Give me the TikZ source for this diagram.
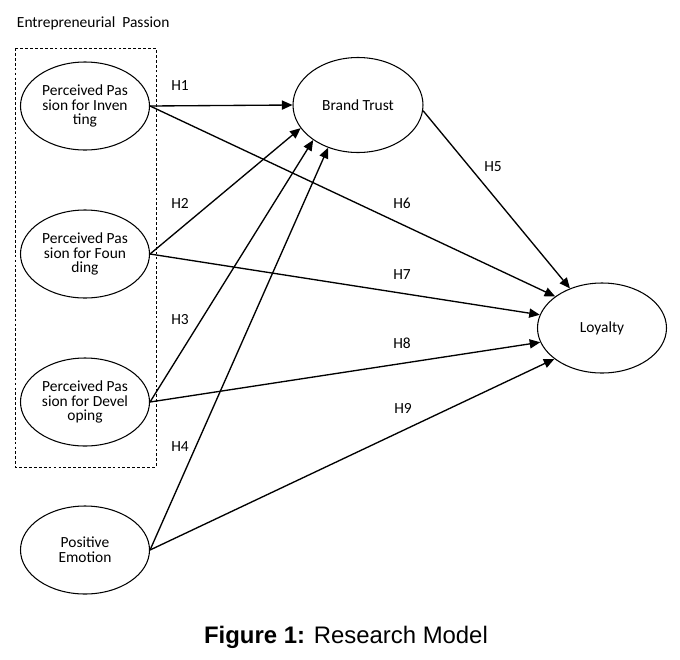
\documentclass[tikz,border=0pt]{standalone}
\usepackage{fontspec}
\setmainfont{Liberation Sans}
\newfontfamily\diagfont{Carlito}
\usetikzlibrary{
  arrows.meta,
  shapes.geometric
}

\begin{document}
\begin{tikzpicture}[
  construct/.style={
    draw, ellipse, line width=0.75pt, inner sep=0pt,
    minimum width=3.225cm, minimum height=2.2cm,
    font=\diagfont\fontsize{11}{10.5}\selectfont, align=center
  },
  hyp/.style={-{Triangle[length=7.5pt, width=6.5pt]}, line width=0.95pt},
  hlabel/.style={font=\diagfont\fontsize{11}{13}\selectfont},
]

\useasboundingbox (0,0) rectangle (17,-16.475);

% Entrepreneurial passion group
\node[hlabel, anchor=west] (ep) at (0.3,-0.575) {Entrepreneurial\ \ Passion};
\draw[line width=0.7pt, dash pattern=on 2pt off 1.5pt]
  (0.375,-1.2) rectangle (3.9,-11.675);

\node[construct] (inv) at (2.125,-2.65)  {Perceived Pas\\sion for Inven\\ting};
\node[construct] (fnd) at (2.125,-6.35)  {Perceived Pas\\sion for Foun\\ding};
\node[construct] (dev) at (2.125,-10.05) {Perceived Pas\\sion for Devel\\oping};
\node[construct] (emo) at (2.125,-13.75) {Positive\\Emotion};

\node[construct, minimum width=3.25cm, minimum height=2.375cm] (bt)  at (8.95,-2.625) {Brand Trust};
\node[construct, minimum height=2.25cm]                        (loy) at (15.05,-8.2)  {Loyalty};

% Paths to brand trust
\draw[hyp] (inv.east) -- (bt.west);
\draw[hyp] (fnd.east) -- (bt.202);
\draw[hyp] (dev.east) -- (bt.218);
\draw[hyp] (emo.east) -- (bt.235.5);

% Paths to loyalty
\draw[hyp] (bt.355)   -- (loy.129);
\draw[hyp] (inv.east) -- (loy.146);
\draw[hyp] (fnd.east) -- (loy.168.5);
\draw[hyp] (dev.east) -- (loy.193);
\draw[hyp] (emo.east) -- (loy.213);

\node[hlabel] (h1) at (4.5,-2.15)    {H1};
\node[hlabel] (h2) at (4.5,-5.075)   {H2};
\node[hlabel] (h3) at (4.5,-8.0)     {H3};
\node[hlabel] (h4) at (4.5,-11.175)  {H4};
\node[hlabel] (h5) at (12.325,-4.175) {H5};
\node[hlabel] (h6) at (10.05,-5.075) {H6};
\node[hlabel] (h7) at (10.05,-6.875) {H7};
\node[hlabel] (h8) at (10.05,-8.575) {H8};
\node[hlabel] (h9) at (10.075,-10.2) {H9};

\node (cap) at (8.65,-15.925) {\fontsize{17}{20}\selectfont\textbf{Figure 1:} Research Model};

\end{tikzpicture}
\end{document}
